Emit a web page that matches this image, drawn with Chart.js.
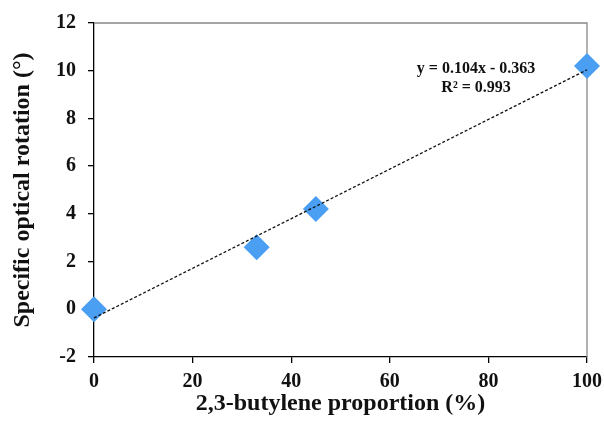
<!DOCTYPE html>
<html>
<head>
<meta charset="utf-8">
<script src="https://cdn.jsdelivr.net/npm/chart.js"></script>
<style>
  body { margin: 0; background: #fff; }
  #wrap { width: 604px; height: 423px; }
</style>
</head>
<body>
<div id="wrap"><canvas id="chart" width="604" height="423"></canvas></div>
<script>
// measured points
const proportion = [0, 33, 45, 100];
const rotation = [0, 2.6, 4.2, 10.2];

// linear trendline as printed on the chart
const slope = 0.104;
const intercept = -0.363;
const trendX = [0, 100];
const equationLines = ['y = 0.104x - 0.363', 'R² = 0.993'];

const xTicks = [0, 20, 40, 60, 80, 100];
const yTicks = [-2, 0, 2, 4, 6, 8, 10, 12];

let points = [];
for (let i = 0; i < proportion.length; i++) {
    points.push({ x: proportion[i], y: rotation[i] });
}
let trend = trendX.map(x => ({ x: x, y: slope * x + intercept }));

const serif = "'Liberation Serif', 'Times New Roman', serif";

// gray frame on top/right and the equation label
const extras = {
    id: 'extras',
    beforeDatasetsDraw(chart) {
        const ctx = chart.ctx;
        const a = chart.chartArea;
        ctx.save();
        ctx.strokeStyle = '#888';
        ctx.lineWidth = 1.3;
        ctx.beginPath();
        ctx.moveTo(a.left, a.top);
        ctx.lineTo(a.right, a.top);
        ctx.lineTo(a.right, a.bottom);
        ctx.stroke();
        ctx.restore();
    },
    afterDraw(chart) {
        const ctx = chart.ctx;
        const xs = chart.scales.x, ys = chart.scales.y;
        ctx.save();
        ctx.fillStyle = '#111';
        ctx.font = 'bold 16px ' + serif;
        ctx.textAlign = 'center';
        ctx.textBaseline = 'middle';
        ctx.fillText(equationLines[0], xs.getPixelForValue(77.5), ys.getPixelForValue(10.07));
        ctx.fillText(equationLines[1], xs.getPixelForValue(77.5), ys.getPixelForValue(9.3));
        ctx.restore();
    }
};

let config = {
    type: 'scatter',
    data: {
        datasets: [
            {
                label: 'Specific optical rotation',
                data: points,
                pointStyle: 'rectRot',
                pointRadius: 13,
                pointHoverRadius: 13,
                backgroundColor: '#4a9ff2',
                borderColor: '#4a9ff2',
                borderWidth: 0,
                clip: false,
                order: 2
            },
            {
                label: 'Linear fit',
                type: 'line',
                data: trend,
                borderColor: '#111',
                borderWidth: 1.3,
                borderDash: [3, 2],
                pointRadius: 0,
                fill: false,
                tension: 0,
                clip: false,
                order: 1
            }
        ]
    },
    options: {
        responsive: false,
        animation: false,
        layout: { padding: { left: 0, right: 17, top: 23, bottom: 0 } },
        plugins: {
            legend: { display: false },
            tooltip: { enabled: false }
        },
        scales: {
            x: {
                type: 'linear',
                min: 0,
                max: 100,
                afterBuildTicks: (s) => { s.ticks = xTicks.map(v => ({ value: v })); },
                afterFit: (s) => { s.height = 66; s.paddingLeft = 0; s.paddingRight = 0; },
                grid: { display: true, drawOnChartArea: false, drawTicks: true, tickLength: 6, color: '#000', lineWidth: 1.3 },
                border: { color: '#000', width: 1.3 },
                ticks: { color: '#111', padding: 7, font: { family: serif, size: 20, weight: 'bold' } },
                title: {
                    display: true,
                    text: '2,3-butylene proportion (%)',
                    color: '#111',
                    padding: { top: 0, bottom: 5 },
                    font: { family: serif, size: 24, weight: 'bold' }
                }
            },
            y: {
                type: 'linear',
                min: -2,
                max: 12,
                afterBuildTicks: (s) => { s.ticks = yTicks.map(v => ({ value: v })); },
                afterFit: (s) => { s.width = 94; s.paddingTop = 0; s.paddingBottom = 0; },
                grid: { display: true, drawOnChartArea: false, drawTicks: true, tickLength: 6, color: '#000', lineWidth: 1.3 },
                border: { color: '#000', width: 1.3 },
                ticks: { color: '#111', padding: 12, font: { family: serif, size: 20, weight: 'bold' } },
                title: {
                    display: true,
                    text: 'Specific optical rotation (°)',
                    color: '#111',
                    padding: { top: 8, bottom: 0 },
                    font: { family: serif, size: 24, weight: 'bold' }
                }
            }
        }
    },
    plugins: [extras]
};

new Chart(document.getElementById('chart').getContext('2d'), config);
</script>
</body>
</html>
